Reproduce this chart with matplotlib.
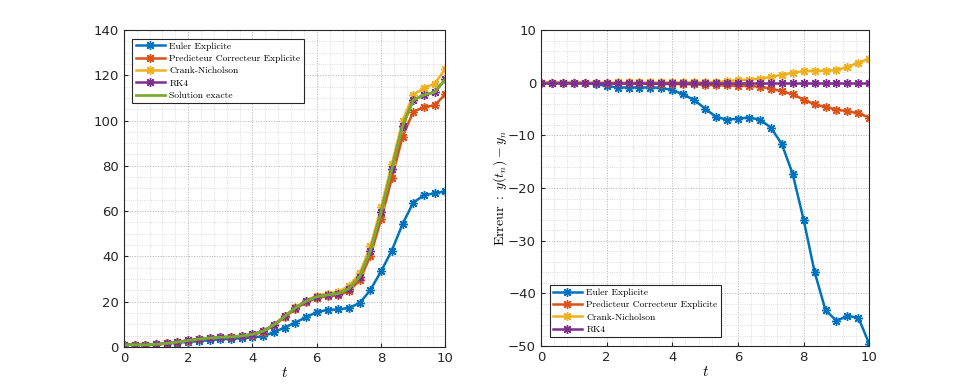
import numpy as np
import matplotlib.pyplot as plt
from matplotlib.ticker import MultipleLocator

plt.rcParams['mathtext.fontset'] = 'cm'

# temps t_n (pas de 1/3 entre 0 et 10)
t = np.linspace(0, 10, 31)

# solution exacte
y_exact = [1.0, 1.0, 1.0, 1.2, 1.6, 2.2, 2.9, 3.5, 4.0, 4.3, 4.5,
           4.9, 5.6, 7.0, 9.8, 13.5, 17.3, 20.2, 22.2, 23.0, 23.6,
           25.8, 31.0, 42.5, 59.5, 78.5, 97.5, 109.0, 111.3, 112.5, 118.3]

# erreurs tracees a droite (y_n - y(t_n) en pratique)
err_euler = [0, 0, 0, 0, -0.05, -0.25, -0.6, -0.9, -0.9, -0.9, -0.9,
             -0.95, -1.4, -2.2, -3.3, -4.9, -6.5, -7.0, -6.8, -6.6, -7.0,
             -8.5, -11.6, -17.3, -26.0, -35.9, -43.2, -45.2, -44.3, -44.6, -49.6]
err_pc = [0, 0, 0, 0, 0, -0.05, -0.05, -0.1, -0.1, -0.1, -0.15,
          -0.2, -0.25, -0.25, -0.3, -0.4, -0.5, -0.5, -0.55, -0.6, -0.75,
          -1.1, -1.6, -2.2, -3.2, -4.1, -4.6, -5.1, -5.4, -5.8, -6.6]
err_cn = [0, 0, 0, 0, 0, 0.02, 0.03, 0.05, 0.05, 0.05, 0.05,
          0.05, 0.08, 0.1, 0.1, 0.1, 0.15, 0.3, 0.5, 0.6, 0.8,
          1.1, 1.5, 1.9, 2.2, 2.3, 2.3, 2.4, 3.0, 3.8, 4.6]
err_rk4 = [0] * 31

labels = ['Euler Explicite', 'Predicteur Correcteur Explicite',
          'Crank-Nicholson', 'RK4']
colors = ['#0072BD', '#D95319', '#EDB120', '#7E2F8E']
errors = [err_euler, err_pc, err_cn, err_rk4]

ASTERISK = (8, 2, 0)
leg_font = {'family': 'cmr10', 'size': 6.9}


def style_axes(ax, xmaj, xmin, ymaj, ymin):
    ax.xaxis.set_major_locator(MultipleLocator(xmaj))
    ax.xaxis.set_minor_locator(MultipleLocator(xmin))
    ax.yaxis.set_major_locator(MultipleLocator(ymaj))
    ax.yaxis.set_minor_locator(MultipleLocator(ymin))
    ax.grid(which='major', color='#b0b0b0', linestyle=':', linewidth=0.7)
    ax.grid(which='minor', color='#d2d2d2', linestyle=':', linewidth=0.6)
    ax.set_axisbelow(True)
    ax.tick_params(which='both', direction='in', colors='#262626',
                   labelsize=9.5)
    ax.tick_params(which='minor', length=0)
    ax.tick_params(which='major', length=3)
    for sp in ax.spines.values():
        sp.set_color('#262626')
        sp.set_linewidth(0.8)


def make_legend(ax, loc):
    leg = ax.legend(loc=loc, prop=leg_font, frameon=True, fancybox=False,
                    framealpha=1, borderpad=0.35, labelspacing=0.38,
                    handlelength=3.0, handletextpad=0.5, borderaxespad=0.9)
    leg.get_frame().set_edgecolor('#262626')
    leg.get_frame().set_linewidth(0.8)


fig = plt.figure(figsize=(9.6, 3.91), dpi=100)
ax1 = fig.add_axes([0.129, 0.1125, 0.335, 0.811])
ax2 = fig.add_axes([0.5635, 0.115, 0.342, 0.808])

# graphique de gauche : solutions
y_ex = np.array(y_exact)
for lab, col, err in zip(labels, colors, errors):
    ax1.plot(t, y_ex + np.array(err), color=col, marker=ASTERISK,
             markersize=6.5, markeredgewidth=1.0, linewidth=1.8, label=lab)
ax1.plot(t, y_ex, color='#77AC30', linewidth=2, label='Solution exacte')
ax1.set_xlim(0, 10)
ax1.set_ylim(0, 140)
style_axes(ax1, 2, 0.4, 20, 5)
ax1.set_xlabel(r'$t$', fontsize=11, labelpad=0)
make_legend(ax1, 'upper left')

# graphique de droite : erreurs
for lab, col, err in zip(labels, colors, errors):
    ax2.plot(t, err, color=col, marker=ASTERISK, markersize=6.5,
             markeredgewidth=1.0, linewidth=1.8, label=lab)
ax2.set_xlim(0, 10)
ax2.set_ylim(-50, 10)
style_axes(ax2, 2, 0.4, 10, 2)
ax2.set_xlabel(r'$t$', fontsize=11, labelpad=0)
ax2.set_ylabel(r'$\mathrm{Erreur\ :\ }y(t_n) - y_n$', fontsize=10, labelpad=-1)
make_legend(ax2, 'lower left')

fig.savefig('out.png', dpi=100)
